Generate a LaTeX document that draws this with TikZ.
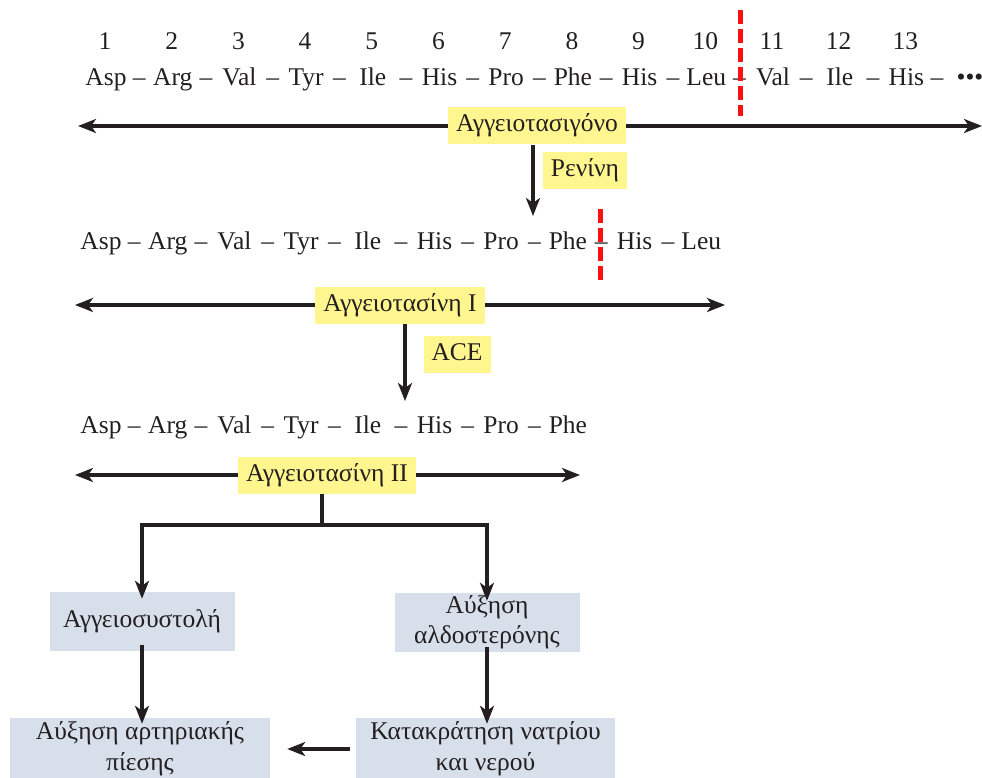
\documentclass[tikz,border=0pt]{standalone}
\usepackage{fontspec}
\setmainfont{Liberation Serif}
\newfontfamily\diagfont{Liberation Serif}
\usetikzlibrary{arrows.meta}
\definecolor{ylw}{HTML}{FFF68F}
\definecolor{bluegrey}{HTML}{D6DFEA}
\definecolor{cutred}{HTML}{FF1010}
\definecolor{ink}{HTML}{231F20}
\tikzset{
  txt/.style={font=\diagfont\fontsize{25.5}{27}\selectfont, text=ink},
  res/.style={txt, anchor=base, inner sep=0pt},
  lbl/.style={txt, fill=ylw, inner xsep=8pt, inner ysep=0pt, minimum height=37pt, text height=17pt, text depth=5pt},
  flowbox/.style={txt, fill=bluegrey, align=center, inner sep=0pt, minimum height=59pt},
  tip/.tip={Stealth[length=18pt,width=14pt,inset=5pt]},
  arr/.style={draw=ink, line width=3.1pt, -tip},
  plain/.style={draw=ink, line width=3.1pt},
  cut/.style={draw=cutred, line width=5pt, dash pattern=on 14pt off 5pt}
}
\begin{document}
\begin{tikzpicture}[x=1pt,y=-1pt]
\useasboundingbox (0,0) rectangle (982,778);

% ---- Row 1: angiotensinogen
\foreach \n [count=\i] in {Asp,Arg,Val,Tyr,Ile,His,Pro,Phe,His,Leu,Val,Ile,His}{
  \node[res] (num\i) at ({105+66.7*(\i-1)},50) {\i};
  \node[res] (ra\i) at ({106+66.7*(\i-1)},86) {\n};
}
\foreach \i in {1,...,12}{
  \node[res] (da\i) at ({139.3+66.7*(\i-1)},86) {–};
}
\node[res] (da13) at (937,86) {–};
\node[res] (dots) at (970,86) {•••};
\draw[cut] (740,10) -- (740,116);

\coordinate (a1L) at (78,126);
\coordinate (a1R) at (982,126);
\node[lbl] (ang) at (537,126) {Αγγειοτασιγόνο};
\draw[arr] (ang.west) -- (a1L);
\draw[arr] (ang.east) -- (a1R);

\coordinate (renEnd) at (533,216);
\draw[arr] (ang.south -| renEnd) -- (renEnd);
\node[lbl] (ren) at (585,171) {Ρενίνη};

% ---- Row 2: angiotensin I
\foreach \n [count=\i] in {Asp,Arg,Val,Tyr,Ile,His,Pro,Phe,His,Leu}{
  \node[res] (rb\i) at ({101+66.7*(\i-1)},249) {\n};
}
\foreach \i in {1,...,9}{
  \node[res] (db\i) at ({134.3+66.7*(\i-1)},249) {–};
}
\draw[cut] (600,209) -- (600,282);

\coordinate (a2L) at (75,305);
\coordinate (a2R) at (725,305);
\node[lbl] (ang1) at (400,305) {Αγγειοτασίνη I};
\draw[arr] (ang1.west) -- (a2L);
\draw[arr] (ang1.east) -- (a2R);

\coordinate (aceEnd) at (405,401);
\draw[arr] (ang1.south -| aceEnd) -- (aceEnd);
\node[lbl] (ace) at (457,354) {ACE};

% ---- Row 3: angiotensin II
\foreach \n [count=\i] in {Asp,Arg,Val,Tyr,Ile,His,Pro,Phe}{
  \node[res] (rc\i) at ({101+66.7*(\i-1)},433) {\n};
}
\foreach \i in {1,...,7}{
  \node[res] (dc\i) at ({134.3+66.7*(\i-1)},433) {–};
}

\coordinate (a3L) at (75,475);
\coordinate (a3R) at (580,475);
\node[lbl] (ang2) at (327,475) {Αγγειοτασίνη II};
\draw[arr] (ang2.west) -- (a3L);
\draw[arr] (ang2.east) -- (a3R);

% ---- Effects
\node[flowbox, minimum width=185pt] (vaso) at (142,621.5) {Αγγειοσυστολή};
\node[flowbox, minimum width=185pt] (aldo) at (487,622.5) {Αύξηση\\[3pt]αλδοστερόνης};
\node[flowbox, minimum width=260pt, minimum height=62pt] (bp) at (140,749) {Αύξηση αρτηριακής\\[4pt]πίεσης};
\node[flowbox, minimum width=259pt, minimum height=62pt] (na) at (485.5,749) {Κατακράτηση νατρίου\\[4pt]και νερού};

\coordinate (split) at (322,525);
\draw[plain] (ang2.south -| split) -- (split);
\draw[arr] (split) -- (142,525) -- ([yshift=-7pt]vaso.north);
\draw[arr] (split) -- (487,525) -- ([yshift=-8pt]aldo.north);

\draw[arr] ([yshift=6pt]vaso.south) -- ([yshift=-6pt]bp.north -| vaso.south);
\draw[arr] ([yshift=5pt]aldo.south) -- ([yshift=-6pt]na.north -| aldo.south);
\draw[arr] ([xshift=-6pt]na.west) -- ([xshift=17pt]bp.east);
\end{tikzpicture}
\end{document}
